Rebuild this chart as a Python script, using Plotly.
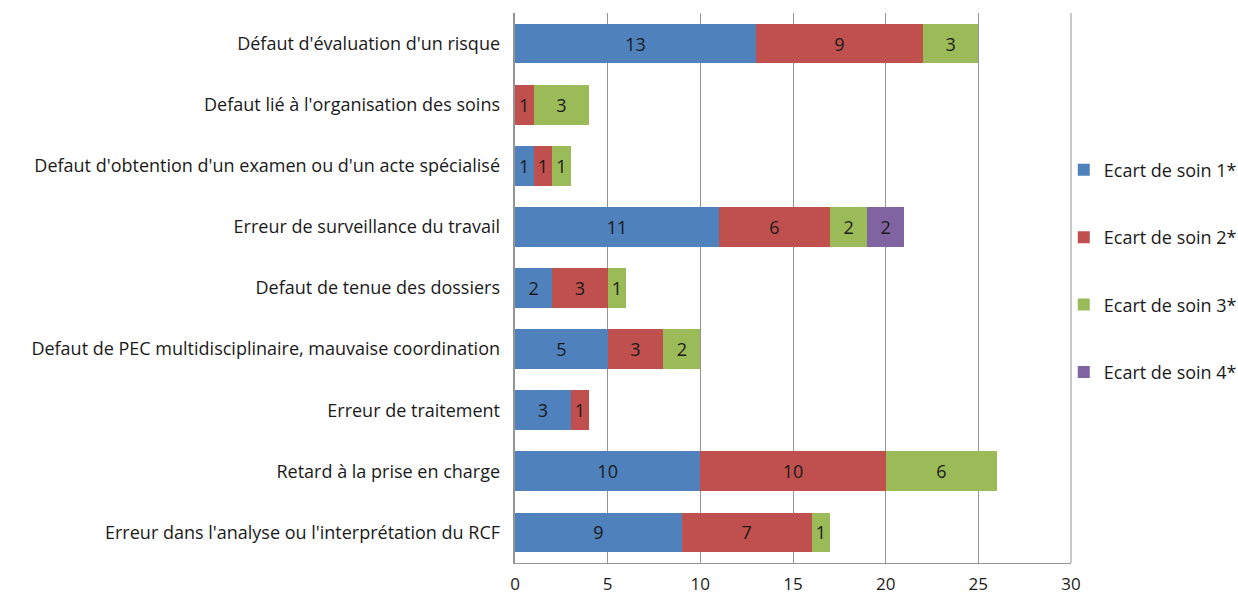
import plotly.graph_objects as go

categories = [
    "Défaut d'évaluation d'un risque",
    "Defaut lié à l'organisation des soins",
    "Defaut d'obtention d'un examen ou d'un acte spécialisé",
    "Erreur de surveillance du travail",
    "Defaut de tenue des dossiers",
    "Defaut de PEC multidisciplinaire, mauvaise coordination",
    "Erreur de traitement",
    "Retard à la prise en charge",
    "Erreur dans l'analyse ou l'interprétation du RCF",
]

ecart1 = [13, None, 1, 11, 2, 5, 3, 10, 9]
ecart2 = [9, 1, 1, 6, 3, 3, 1, 10, 7]
ecart3 = [3, 3, 1, 2, 1, 2, None, 6, 1]
ecart4 = [None, None, None, 2, None, None, None, None, None]

series = [
    ("Ecart de soin 1*", ecart1, "#4F81BD"),
    ("Ecart de soin 2*", ecart2, "#C0504D"),
    ("Ecart de soin 3*", ecart3, "#9BBB59"),
    ("Ecart de soin 4*", ecart4, "#8064A2"),
]

font_family = "'Open Sans', sans-serif"
grid_color = '#949494'

fig = go.Figure()
for i, (name, vals, color) in enumerate(series):
    fig.add_trace(go.Bar(
        y=categories,
        x=vals,
        name=name,
        orientation='h',
        marker=dict(color=color, line=dict(width=0)),
        text=[v if v else "" for v in vals],
        textposition='inside',
        insidetextanchor='middle',
        textangle=0,
        textfont=dict(size=18, color="#1a1a1a", family=font_family),
        legendgroup=f"g{i}",
        hoverinfo='x+name',
    ))

# plotly skips the gridline sitting on the right edge, so draw it here
fig.add_shape(type='line', xref='x domain', yref='y domain',
              x0=1, x1=1, y0=0, y1=1,
              line=dict(color=grid_color, width=1), layer='below')

fig.update_layout(
    barmode='stack',
    bargap=0.35,
    width=1238,
    height=598,
    margin=dict(l=515, r=167, t=13, b=35, autoexpand=False),
    paper_bgcolor='white',
    plot_bgcolor='white',
    font=dict(family=font_family, size=18, color="#1a1a1a"),
    uniformtext=dict(minsize=16, mode='show'),
    xaxis=dict(
        range=[0, 30],
        dtick=5,
        showgrid=True,
        gridcolor=grid_color,
        gridwidth=1,
        showline=True,
        linecolor=grid_color,
        linewidth=1,
        zeroline=False,
        ticks='',
        automargin=False,
        ticklabelstandoff=6,
        tickfont=dict(size=17),
    ),
    yaxis=dict(
        autorange='reversed',
        showline=True,
        linecolor=grid_color,
        linewidth=2,
        ticks='',
        automargin=False,
        ticksuffix='  ',
        tickfont=dict(size=18),
    ),
    legend=dict(
        x=0.987,
        y=0.748,
        xanchor='left',
        yanchor='top',
        tracegroupgap=41,
        bgcolor='rgba(0,0,0,0)',
        font=dict(size=18),
        itemwidth=30,
    ),
)

# drop the default body margin so the figure sits at the page corner
fig.write_html(
    "out.html",
    config={"displayModeBar": False},
    post_script="document.body.style.margin='0px';",
)
